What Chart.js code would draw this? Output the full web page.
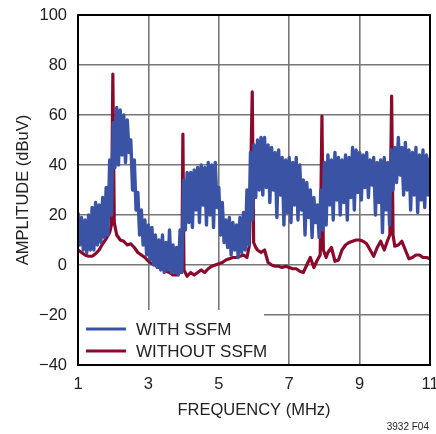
<!DOCTYPE html>
<html>
<head>
<meta charset="utf-8">
<script src="https://cdn.jsdelivr.net/npm/chart.js@4.4.0/dist/chart.umd.min.js"></script>
<style>
html, body { margin: 0; padding: 0; background: #fff; }
#wrap { position: relative; width: 436px; height: 434px; }
#note { position: absolute; right: 7px; top: 421px; font: 10px 'Liberation Sans', Arial, sans-serif; color: #222; }
</style>
</head>
<body>
<div id="wrap"><canvas id="c" width="436" height="434"></canvas><div id="note">3932 F04</div></div>
<script>
// tick labels
const xTicks = [1, 3, 5, 7, 9, 11]
const yTicks = [-40, -20, 0, 20, 40, 60, 80, 100]
const seriesNames = ["WITH SSFM", "WITHOUT SSFM"]

// WITH SSFM: upper / lower swing of the noise, one pair every 0.1 MHz from 1.0
const blueStart = 1.0
const blueStep = 0.1
const blueHi = [
  21, 19, 18, 20, 23, 25, 24, 27, 31, 42,
  57, 63, 62, 60, 58, 50, 42, 29, 22, 18,
  16, 15, 12, 10, 12, 9, 14, 8, 7, 14,
  34, 37, 37, 38, 39, 40, 39, 41, 40, 41,
  31, 25, 18, 19, 17, 16, 19, 21, 30, 45,
  48, 50, 51, 51, 48, 47, 45, 46, 43, 42,
  43, 41, 43, 40, 34, 33, 30, 27, 24, 30,
  41, 44, 42, 45, 43, 42, 44, 43, 47, 46,
  45, 44, 45, 42, 43, 41, 42, 43, 41, 46,
  47, 51, 47, 49, 46, 45, 47, 44, 46, 44
]
const blueLo = [
  8, 6, 5, 6, 6, 8, 9, 11, 12, 20,
  39, 40, 44, 41, 45, 30, 22, 12, 8, 4,
  2, 0, -1, -2, -3, -2, -3, -3, -4, -3,
  14, 17, 15, 22, 17, 24, 16, 20, 15, 23,
  12, 9, 7, 4, 6, 3, 5, 6, 8, 18,
  27, 30, 28, 31, 25, 30, 19, 28, 16, 21,
  17, 24, 18, 22, 12, 19, 11, 17, 11, 14,
  16, 24, 18, 26, 20, 25, 18, 27, 22, 29,
  26, 31, 27, 32, 20, 25, 13, 22, 16, 30,
  33, 36, 28, 30, 22, 28, 21, 26, 23, 28
]
const blueEnd = 43

// WITHOUT SSFM
const redFreq = [
  1.0, 1.1, 1.2, 1.3, 1.4, 1.5, 1.6, 1.7, 1.8, 1.9,
  1.95, 1.99, 2.03, 2.1, 2.2, 2.3, 2.4, 2.5, 2.6, 2.7,
  2.8, 2.9, 3.0, 3.1, 3.2, 3.3, 3.4, 3.5, 3.6, 3.7,
  3.8, 3.9, 3.95, 3.98, 4.01, 4.1, 4.2, 4.3, 4.4, 4.5,
  4.6, 4.7, 4.8, 4.9, 5.0, 5.1, 5.2, 5.3, 5.4, 5.5,
  5.6, 5.7, 5.8, 5.87, 5.95, 5.99, 6.05, 6.1, 6.2, 6.3,
  6.4, 6.5, 6.6, 6.7, 6.8, 6.9, 7.0, 7.1, 7.2, 7.3,
  7.4, 7.5, 7.6, 7.7, 7.8, 7.88, 7.93, 7.97, 8.05, 8.1,
  8.2, 8.3, 8.4, 8.5, 8.6, 8.7, 8.8, 8.9, 9.0, 9.1,
  9.2, 9.3, 9.4, 9.5, 9.6, 9.7, 9.8, 9.86, 9.91, 9.95,
  10.0, 10.1, 10.2, 10.3, 10.4, 10.5, 10.6, 10.7, 10.8, 10.9,
  11.0
]
const redAmp = [
  6, 5, 4, 3.5, 3.5, 4.5, 6, 8.5, 10.5, 13,
  16, 76.4, 17, 12, 10, 9.5, 8, 8.5, 7, 5,
  4, 3, 1.5, 0.5, 0, -1, -1.5, -2.5, -3, -4,
  -4, -3, -2, 52.4, -2, -4.5, -3, -4, -3, -2,
  -3, -1.5, -0.5, 0, 0.5, 1, 2, 2.5, 3, 3,
  3.5, 4, 3, 8, 69.3, 9, 7, 6, 5, 6,
  1, 0, -0.5, -0.5, -1, -0.5, -1, -1.5, -1.5, -2.5,
  -3, 0, 3, -1, 2, 4, 59.6, 6, 3, 5,
  7, 1.5, 2, 6, 8, 9, 9.5, 10, 10, 9.5,
  8.5, 6, 3.5, 7, 9.5, 6, 10, 12, 67.6, 12,
  7.5, 8, 9.5, 6, 2.5, 3, 4, 4, 3, 3,
  2.5
]

const blueCol = "#3a53a4"
const redCol = "#8b0a2c"
const txtCol = "#222"
const gridCol = "#777"
const fontFam = "'Liberation Sans', Arial, sans-serif"

// zigzag: top swing at each step, bottom swing half a step later
bluePts = []
for (var i = 0; i < blueHi.length; i++) {
    var f = blueStart + blueStep * i
    bluePts.push({x: f, y: blueHi[i]})
    bluePts.push({x: f + blueStep / 2, y: blueLo[i]})
}
bluePts.push({x: 11, y: blueEnd})

redPts = redFreq.map((f, i) => ({x: f, y: redAmp[i]}))

const framePlugin = {
    id: "frame",
    beforeDatasetsDraw(chart) {
        const c = chart.ctx, a = chart.chartArea
        // white legend panel over the grid
        c.save()
        c.fillStyle = "#fff"
        c.fillRect(a.left + 1, 310, 263 - a.left, a.bottom - 311)
        c.restore()
    },
    afterDatasetsDraw(chart) {
        const c = chart.ctx, a = chart.chartArea
        c.save()
        c.strokeStyle = "#000"
        c.lineWidth = 2
        c.strokeRect(a.left, a.top, a.right - a.left, a.bottom - a.top)
        // legend
        const rows = [329, 351]
        chart.data.datasets.forEach((ds, k) => {
            c.strokeStyle = ds.borderColor
            c.lineWidth = 3
            c.beginPath()
            c.moveTo(86, rows[k])
            c.lineTo(126, rows[k])
            c.stroke()
            c.fillStyle = txtCol
            c.font = "17px " + fontFam
            c.textBaseline = "middle"
            c.textAlign = "left"
            c.fillText(ds.label, 136, rows[k] + 1)
        })
        c.restore()
    }
}

const tickFont = {family: fontFam, size: 16.5}

new Chart(document.getElementById("c"), {
    type: "line",
    data: {
        datasets: [
            {label: seriesNames[0], data: bluePts, borderColor: blueCol, borderWidth: 3.4, borderJoinStyle: "round", pointRadius: 0, tension: 0},
            {label: seriesNames[1], data: redPts, borderColor: redCol, borderWidth: 3.2, borderJoinStyle: "round", pointRadius: 0, tension: 0}
        ]
    },
    options: {
        responsive: false,
        animation: false,
        devicePixelRatio: 1,
        layout: {padding: {top: 15, right: 6, left: 0, bottom: 0}},
        plugins: {legend: {display: false}, tooltip: {enabled: false}},
        scales: {
            x: {
                type: "linear", min: 1, max: 11,
                afterBuildTicks: s => { s.ticks = xTicks.map(v => ({value: v})) },
                ticks: {padding: 10, font: tickFont, color: txtCol},
                grid: {color: gridCol, lineWidth: 1.6, drawTicks: false},
                border: {display: false},
                title: {display: true, text: "FREQUENCY (MHz)", font: tickFont, color: txtCol, padding: {top: 0, bottom: 14}},
                afterFit: s => { s.height = 69; s.paddingLeft = 0; s.paddingRight = 0 }
            },
            y: {
                min: -40, max: 100,
                afterBuildTicks: s => { s.ticks = yTicks.map(v => ({value: v})) },
                ticks: {padding: 11, font: tickFont, color: txtCol, callback: v => v < 0 ? "\u2212" + Math.abs(v) : String(v)},
                grid: {color: gridCol, lineWidth: 1.6, drawTicks: false},
                border: {display: false},
                title: {display: true, text: "AMPLITUDE (dBuV)", font: tickFont, color: txtCol, padding: {top: 14, bottom: 0}},
                afterFit: s => { s.width = 78; s.paddingTop = 0; s.paddingBottom = 0 }
            }
        }
    },
    plugins: [framePlugin]
})
</script>
</body>
</html>
